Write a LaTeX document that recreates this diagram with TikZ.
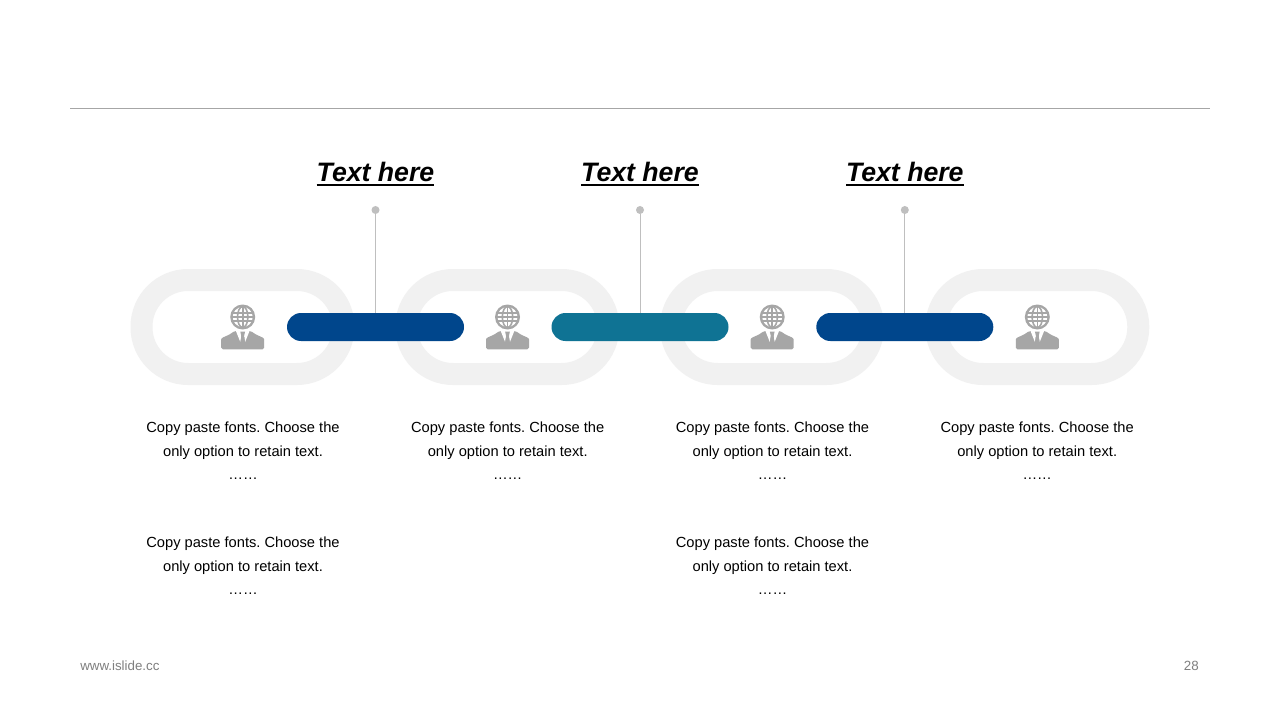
\documentclass[tikz,border=0pt]{standalone}
\usepackage{fontspec}
\setmainfont{Liberation Sans}
\usetikzlibrary{calc}
\definecolor{ringc}{HTML}{F1F1F1}
\definecolor{navy}{HTML}{00468C}
\definecolor{teal2}{HTML}{0F7394}
\definecolor{icong}{HTML}{A6A6A6}
\definecolor{pinc}{HTML}{BFBFBF}
\definecolor{footc}{HTML}{7F7F7F}
\tikzset{
  x=0.75pt,y=-0.75pt,
  ringbox/.style={draw=ringc,line width=16.5pt,minimum width=151.5pt,minimum height=70.5pt,rounded corners=35pt,inner sep=0pt,outer sep=0pt},
  barbox/.style={fill=#1,minimum width=132.75pt,minimum height=21pt,rounded corners=10.5pt,inner sep=0pt,outer sep=0pt},
  pindot/.style={circle,fill=pinc,minimum size=6pt,inner sep=0pt,outer sep=0pt},
  pinline/.style={draw=pinc,line width=0.75pt},
  titletxt/.style={font=\fontsize{20}{24}\selectfont\bfseries\itshape,inner sep=0pt,text=black},
  bodytxt/.style={font=\fontsize{11}{17.6}\selectfont\frenchspacing,align=center,inner sep=0pt,text=black,anchor=north},
  foottxt/.style={font=\fontsize{10}{12}\selectfont,text=footc,inner sep=0pt},
  person/.pic={
    \fill[icong] (0,0) circle[radius=12.5];
    \fill[white] (0,0) circle[radius=10];
    \begin{scope}[draw=icong,line width=1.2pt]
      \draw (0,0) ellipse[x radius=5.2,y radius=10.5];
      \draw (0,-10.5) -- (0,10.5);
      \draw (-10,-4) -- (10,-4);
      \draw (-10.5,0) -- (10.5,0);
      \draw (-10,4) -- (10,4);
    \end{scope}
    \fill[icong,rounded corners=1.2pt] (-21.5,32.3) -- (-21.5,24) .. controls (-21.5,21) and (-18,19.5) .. (-14,18) -- (-8,14) -- (8,14) -- (14,18) .. controls (18,19.5) and (21.5,21) .. (21.5,24) -- (21.5,32.3) -- cycle;
    \fill[white] (-7,13.5) -- (-2.4,25) -- (-1,16.5) -- (1,16.5) -- (2.4,25) -- (7,13.5) -- cycle;
    \fill[icong] (-2.4,14.5) -- (2.4,14.5) -- (1.4,19) -- (2.4,27) -- (0,30) -- (-2.4,27) -- (-1.4,19) -- cycle;
  }
}
\newcommand{\bodycopy}{Copy paste fonts. Choose the\\only option to retain text.\\……}
\newcommand{\titleul}[1]{\vtop{\hbox{#1}\kern1.6pt\hrule height 1.5pt}}
\begin{document}
\begin{tikzpicture}
\useasboundingbox (0,0) rectangle (1280,720);
\fill[white] (0,0) rectangle (1280,720);
\coordinate (ruleL) at (70,108.5);
\coordinate (ruleR) at (1210,108.5);
\draw[draw=icong,line width=0.75pt] (ruleL) -- (ruleR);

\node[ringbox] (r1) at (242.5,327) {};
\node[ringbox] (r2) at (507.3,327) {};
\node[ringbox] (r3) at (772,327) {};
\node[ringbox] (r4) at (1037.3,327) {};

\pic at (242.7,317) {person};
\pic at (507.5,317) {person};
\pic at (772.2,317) {person};
\pic at (1037.3,317) {person};

\node[barbox=navy] (b1) at (375.5,327) {};
\node[barbox=teal2] (b2) at (640,327) {};
\node[barbox=navy] (b3) at (904.8,327) {};

\node[pindot] (p1) at (375.5,210) {};
\node[pindot] (p2) at (640,210) {};
\node[pindot] (p3) at (904.8,210) {};
\draw[pinline] (p1) -- (b1.north -| p1);
\draw[pinline] (p2) -- (b2.north -| p2);
\draw[pinline] (p3) -- (b3.north -| p3);

\node[titletxt,anchor=base] (t1) at (375.5,181.5) {\titleul{Text here}};
\node[titletxt,anchor=base] (t2) at (640,181.5) {\titleul{Text here}};
\node[titletxt,anchor=base] (t3) at (904.8,181.5) {\titleul{Text here}};

\node[bodytxt] (c1) at (243,422) {\bodycopy};
\node[bodytxt] (c2) at (507.7,422) {\bodycopy};
\node[bodytxt] (c3) at (772.5,422) {\bodycopy};
\node[bodytxt] (c4) at (1037.2,422) {\bodycopy};
\node[bodytxt] (c5) at (243,537) {\bodycopy};
\node[bodytxt] (c6) at (772.5,537) {\bodycopy};

\node[foottxt,anchor=west] (f1) at (80,666) {www.islide.cc};
\node[foottxt,anchor=east] (f2) at (1199,666) {28};
\end{tikzpicture}
\end{document}
